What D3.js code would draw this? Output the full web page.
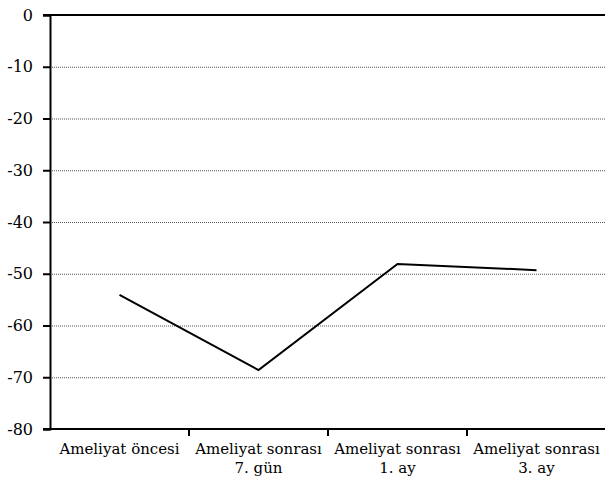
<!DOCTYPE html>
<html><head><meta charset="utf-8">
<script src="https://cdn.jsdelivr.net/npm/d3@7/dist/d3.min.js"></script>
<style>body{margin:0;background:#fff}svg{display:block}svg text{font-family:"DejaVu Serif","Liberation Serif",serif !important}</style>
</head><body>
<script>
const categories = [["Ameliyat öncesi"], ["Ameliyat sonrası", "7. gün"], ["Ameliyat sonrası", "1. ay"], ["Ameliyat sonrası", "3. ay"]];
const values = [-54.1, -68.6, -48.1, -49.3];
const yTicks = [0, -10, -20, -30, -40, -50, -60, -70, -80];

const W = 605, H = 482;
const svg = d3.select("body").append("svg").attr("width", W).attr("height", H);
const mLeft = 50, mRight = 606, mTop = 15, mBottom = 429;

const x = d3.scaleBand().domain(d3.range(categories.length)).range([mLeft, mRight]);
const y = d3.scaleLinear().domain([-80, 0]).range([mBottom, mTop]);

// gridlines
svg.append("g").selectAll("line").data(yTicks.filter(t => t !== 0 && t !== -80)).join("line")
  .attr("x1", mLeft).attr("x2", W).attr("y1", d => y(d) + 0.5).attr("y2", d => y(d) + 0.5)
  .attr("stroke", "#555").attr("stroke-width", 1).attr("stroke-dasharray", "1,1");

// top line at 0
svg.append("line").attr("x1", 43).attr("x2", W).attr("y1", y(0)).attr("y2", y(0))
  .attr("stroke", "#000").attr("stroke-width", 2);

// y axis
const yAxis = svg.append("g").attr("transform", `translate(${mLeft},0)`)
  .call(d3.axisLeft(y).tickValues(yTicks).tickSize(7).tickPadding(10).tickFormat(d => String(d)));
yAxis.select(".domain").attr("stroke", "#000").attr("stroke-width", 2);
yAxis.selectAll(".tick line").attr("stroke", "#000").attr("stroke-width", 2);
yAxis.selectAll(".tick text").style("font-size", "16px").attr("fill", "#000");

// x axis
const xAxis = svg.append("g").attr("transform", `translate(0,${mBottom})`);
xAxis.append("line").attr("x1", 43).attr("x2", W).attr("y1", 0).attr("y2", 0)
  .attr("stroke", "#000").attr("stroke-width", 2);
xAxis.selectAll("line.tk").data(d3.range(1, categories.length)).join("line").attr("class", "tk")
  .attr("x1", d => x(d)).attr("x2", d => x(d)).attr("y1", 0).attr("y2", 7)
  .attr("stroke", "#000").attr("stroke-width", 2);
const lbl = xAxis.selectAll("text").data(categories).join("text")
  .attr("text-anchor", "middle").style("font-size", "15px").attr("fill", "#000")
  .attr("transform", (d, i) => `translate(${x(i) + x.bandwidth() / 2},25)`);
lbl.selectAll("tspan").data(d => d).join("tspan")
  .attr("x", 0).attr("dy", (d, i) => i === 0 ? 0 : 19).text(d => d);

// line
svg.append("path").datum(values)
  .attr("d", d3.line().x((d, i) => x(i) + x.bandwidth() / 2).y(d => y(d)))
  .attr("fill", "none").attr("stroke", "#000").attr("stroke-width", 2);
</script>
</body></html>
